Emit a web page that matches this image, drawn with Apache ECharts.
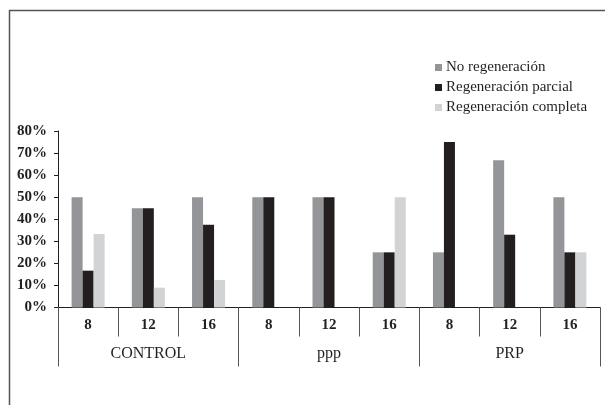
<!DOCTYPE html>
<html>
<head>
<meta charset="utf-8">
<script src="https://cdn.jsdelivr.net/npm/echarts@6/dist/echarts.min.js"></script>
<style>
html,body{margin:0;padding:0;background:#fff;}
#c{width:605px;height:405px;}
</style>
</head>
<body>
<div id="c"></div>
<script>
const timeLabels = ['8', '12', '16', '8', '12', '16', '8', '12', '16'];
const groupLabels = ['CONTROL', 'ppp', 'PRP'];
const seriesNames = ['No regeneración', 'Regeneración parcial', 'Regeneración completa'];
const noRegeneracion = [50, 45, 50, 50, 50, 25, 25, 66.7, 50];
const regParcial = [16.7, 45, 37.5, 50, 50, 25, 75, 33, 25];
const regCompleta = [33.3, 9, 12.5, 0, 0, 50, 0, 0, 25];
const yTicks = [0, 10, 20, 30, 40, 50, 60, 70, 80];

const colors = ['#939598', '#231f20', '#d1d3d4'];
const serif = 'Liberation Serif';

const chart = echarts.init(document.getElementById('c'));
const values = [noRegeneracion, regParcial, regCompleta];

chart.setOption({
  animation: false,
  backgroundColor: '#fff',
  graphic: [
    { type: 'line', shape: { x1: 9, y1: 10.5, x2: 605, y2: 10.5 }, style: { stroke: '#555', lineWidth: 1.5 } },
    { type: 'line', shape: { x1: 9.5, y1: 10, x2: 9.5, y2: 405 }, style: { stroke: '#555', lineWidth: 1.5 } }
  ],
  legend: {
    orient: 'vertical',
    left: 430,
    top: 55,
    itemWidth: 7,
    itemHeight: 7,
    itemGap: 5,
    icon: 'rect',
    textStyle: { fontFamily: serif, fontSize: 15, color: '#231f20', padding: [0, 0, 0, -1] },
    data: seriesNames
  },
  grid: { left: 58, right: 5, top: 131, bottom: 97.5, containLabel: false },
  xAxis: [
    {
      type: 'category',
      data: timeLabels,
      position: 'bottom',
      axisLine: { show: true, lineStyle: { color: '#231f20', width: 1 } },
      axisTick: { show: true, length: 29, interval: 0, lineStyle: { color: '#555', width: 1 } },
      axisLabel: { interval: 0, margin: 10, fontFamily: serif, fontSize: 15, fontWeight: 'bold', color: '#231f20' }
    },
    {
      type: 'category',
      data: groupLabels,
      position: 'bottom',
      offset: 0,
      axisLine: { show: false },
      axisTick: { show: true, length: 59, interval: 0, lineStyle: { color: '#555', width: 1 } },
      axisLabel: { interval: 0, margin: 38, fontFamily: serif, fontSize: 16, color: '#231f20' }
    }
  ],
  yAxis: {
    type: 'value',
    min: yTicks[0],
    max: yTicks[yTicks.length - 1],
    interval: 10,
    axisLine: { show: true, lineStyle: { color: '#231f20', width: 1 } },
    axisTick: { show: true, length: 4, lineStyle: { color: '#231f20' } },
    splitLine: { show: false },
    axisLabel: { margin: 11, fontFamily: serif, fontSize: 15, fontWeight: 'bold', color: '#231f20', formatter: '{value}%' }
  },
  series: seriesNames.map((name, i) => ({
    name: name,
    type: 'bar',
    xAxisIndex: 0,
    data: values[i],
    barWidth: 11,
    barGap: '0%',
    itemStyle: { color: colors[i] }
  }))
});
</script>
</body>
</html>
